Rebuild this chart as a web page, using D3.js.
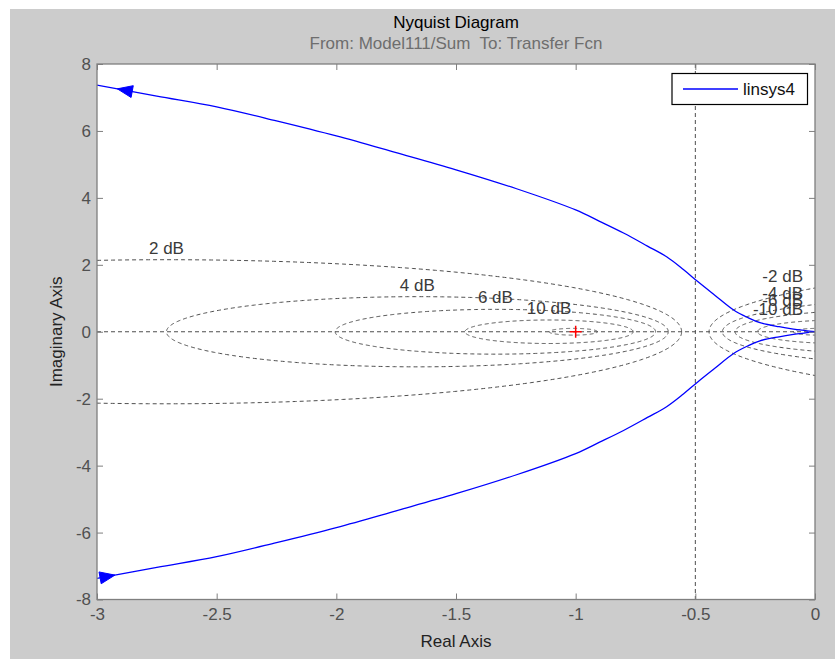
<!DOCTYPE html>
<html>
<head>
<meta charset="utf-8">
<script src="https://cdn.jsdelivr.net/npm/d3@7"></script>
<style>
  body { margin: 0; background: #fff; }
  svg text { font-family: "Liberation Sans", Arial, sans-serif; white-space: pre; }
</style>
</head>
<body>
<svg id="chart" width="835" height="659"></svg>
<script>
// nyquist curve, upper branch (negative frequencies)
const realPart = [-3.0, -2.75, -2.5, -2.25, -2.0, -1.75, -1.5, -1.25, -1.0, -0.9, -0.8, -0.7, -0.62, -0.55, -0.49, -0.42, -0.34, -0.28, -0.23, -0.15, -0.09, -0.04, 0];
const imagPart = [7.37, 7.04, 6.72, 6.30, 5.85, 5.35, 4.84, 4.28, 3.64, 3.30, 2.95, 2.56, 2.24, 1.86, 1.50, 1.10, 0.65, 0.42, 0.27, 0.15, 0.08, 0.035, 0];

// closed loop magnitude grid (dB)
const gridDb = [-20, -10, -6, -4, -2, 2, 4, 6, 10, 20];
const labelDb = [-10, -6, -4, -2, 2, 4, 6, 10];

const xTicks = [-3, -2.5, -2, -1.5, -1, -0.5, 0];
const yTicks = [-8, -6, -4, -2, 0, 2, 4, 6, 8];

const seriesName = "linsys4";
const titleText = "Nyquist Diagram";
const subTitleText = "From: Model111/Sum  To: Transfer Fcn";

function drawChart() {
    var svg = d3.select("#chart");
    var left = 97, right = 815, top = 64, bottom = 599.5;

    var x = d3.scaleLinear().domain([-3, 0]).range([left, right]);
    var y = d3.scaleLinear().domain([-8, 8]).range([bottom, top]);

    // figure background
    svg.append("rect").attr("x", 10).attr("y", 9).attr("width", 825).attr("height", 650).attr("fill", "#cccccc");
    svg.append("rect").attr("x", left).attr("y", top).attr("width", right - left).attr("height", bottom - top).attr("fill", "#fff");

    svg.append("clipPath").attr("id", "plotclip")
        .append("rect").attr("x", left).attr("y", top).attr("width", right - left).attr("height", bottom - top);

    var plot = svg.append("g").attr("clip-path", "url(#plotclip)");
    var gridColor = "#4e4e4e";

    // M circles
    var line = d3.line().x(d => x(d[0])).y(d => y(d[1]));
    gridDb.forEach(function(db) {
        var m = Math.pow(10, db / 20);
        var cx = -m * m / (m * m - 1);
        var r = Math.abs(m / (m * m - 1));
        var pts = d3.range(0, 721).map(i => {
            var t = i / 720 * 2 * Math.PI;
            return [cx + r * Math.cos(t), r * Math.sin(t)];
        });
        plot.append("path").attr("d", line(pts))
            .attr("fill", "none").attr("stroke", gridColor).attr("stroke-width", 1)
            .attr("stroke-dasharray", "4,3");
    });

    // 0 dB line and real axis
    plot.append("line").attr("x1", x(-0.5)).attr("x2", x(-0.5)).attr("y1", top).attr("y2", bottom)
        .attr("stroke", gridColor).attr("stroke-dasharray", "4,3");
    plot.append("line").attr("x1", left).attr("x2", right).attr("y1", y(0)).attr("y2", y(0))
        .attr("stroke", gridColor).attr("stroke-dasharray", "4,3");

    // dB labels
    labelDb.forEach(function(db) {
        var m = Math.pow(10, db / 20);
        var cx = -m * m / (m * m - 1);
        var r = Math.abs(m / (m * m - 1));
        var t = svg.append("text").attr("font-size", 17).attr("fill", "#3a3a3a")
            .text(db + " dB");
        if (cx > 0) {
            var yy = Math.sqrt(r * r - cx * cx);
            t.attr("x", x(0) - 12).attr("y", y(yy) - 6).attr("text-anchor", "end");
        } else {
            t.attr("x", x(cx)).attr("y", y(r) - 6).attr("text-anchor", "middle");
        }
    });

    // nyquist curve
    var upper = realPart.map((d, i) => [d, imagPart[i]]);
    var lower = realPart.map((d, i) => [d, -imagPart[i]]);
    var curve = d3.line().x(d => x(d[0])).y(d => y(d[1])).curve(d3.curveCatmullRom.alpha(0.5));
    [upper, lower].forEach(function(branch) {
        plot.append("path").attr("d", curve(branch))
            .attr("fill", "none").attr("stroke", "#0000ff").attr("stroke-width", 1.3);
    });

    // direction arrows
    var interp = d3.scaleLinear().domain(realPart).range(imagPart);
    function arrow(tipX, baseX, sign) {
        var tx = x(tipX), ty = y(sign * interp(tipX));
        var bx = x(baseX), by = y(sign * interp(baseX));
        var dx = tx - bx, dy = ty - by, len = Math.sqrt(dx * dx + dy * dy);
        var nx = -dy / len * 6, ny = dx / len * 6;
        plot.append("path")
            .attr("d", "M" + tx + "," + ty + "L" + (bx + nx) + "," + (by + ny) + "L" + (bx - nx) + "," + (by - ny) + "Z")
            .attr("fill", "#0000ff").attr("stroke", "#0000ff");
    }
    arrow(-2.915, -2.853, 1);
    arrow(-2.925, -2.987, -1);

    // critical point
    plot.append("path")
        .attr("d", "M" + (x(-1) - 6) + "," + y(0) + "H" + (x(-1) + 6) + "M" + x(-1) + "," + (y(0) - 6) + "V" + (y(0) + 6))
        .attr("stroke", "#ff0000").attr("stroke-width", 1.5);

    // axes
    var axisColor = "#7f7f7f", labelColor = "#505050";
    function styleAxis(g, showLabels) {
        g.select(".domain").remove();
        g.selectAll(".tick line").attr("stroke", axisColor);
        g.selectAll(".tick text").attr("fill", labelColor).attr("font-size", 17)
            .style("font-family", "'Liberation Sans', Arial, sans-serif");
        if (!showLabels) g.selectAll(".tick text").remove();
    }
    svg.append("g").attr("transform", "translate(0," + bottom + ")")
        .call(d3.axisBottom(x).tickValues(xTicks).tickFormat(d3.format("")).tickSizeInner(-6).tickSizeOuter(0).tickPadding(8))
        .call(g => styleAxis(g, true));
    svg.append("g").attr("transform", "translate(0," + top + ")")
        .call(d3.axisTop(x).tickValues(xTicks).tickSizeInner(-6).tickSizeOuter(0))
        .call(g => styleAxis(g, false));
    svg.append("g").attr("transform", "translate(" + left + ",0)")
        .call(d3.axisLeft(y).tickValues(yTicks).tickFormat(d3.format("")).tickSizeInner(-6).tickSizeOuter(0).tickPadding(6))
        .call(g => styleAxis(g, true));
    svg.append("g").attr("transform", "translate(" + right + ",0)")
        .call(d3.axisRight(y).tickValues(yTicks).tickSizeInner(-6).tickSizeOuter(0))
        .call(g => styleAxis(g, false));
    svg.selectAll("text").filter(function() { return this.textContent.indexOf("−") >= 0; })
        .text(function() { return this.textContent.replace("−", "-"); });

    svg.append("rect").attr("x", left).attr("y", top).attr("width", right - left).attr("height", bottom - top)
        .attr("fill", "none").attr("stroke", axisColor).attr("stroke-width", 1.3);

    // titles
    svg.append("text").attr("x", (left + right) / 2).attr("y", 28).attr("text-anchor", "middle")
        .attr("font-size", 17).attr("fill", "#000").text(titleText);
    svg.append("text").attr("x", (left + right) / 2).attr("y", 49).attr("text-anchor", "middle")
        .attr("font-size", 17).attr("fill", "#6e6e6e").text(subTitleText);
    svg.append("text").attr("x", (left + right) / 2).attr("y", 647).attr("text-anchor", "middle")
        .attr("font-size", 17).attr("fill", "#222").text("Real Axis");
    svg.append("text").attr("transform", "translate(62," + y(0) + ") rotate(-90)").attr("text-anchor", "middle")
        .attr("font-size", 17).attr("fill", "#222").text("Imaginary Axis");

    // legend
    var lg = svg.append("g");
    lg.append("rect").attr("x", 672).attr("y", 73.5).attr("width", 135.5).attr("height", 31)
        .attr("fill", "#fff").attr("stroke", "#000").attr("stroke-width", 1.2);
    lg.append("line").attr("x1", 683).attr("x2", 738).attr("y1", 89).attr("y2", 89)
        .attr("stroke", "#0000ff").attr("stroke-width", 1.3);
    lg.append("text").attr("x", 743).attr("y", 95).attr("font-size", 17).attr("fill", "#111").text(seriesName);
}

createChart = drawChart;
createChart();
</script>
</body>
</html>
